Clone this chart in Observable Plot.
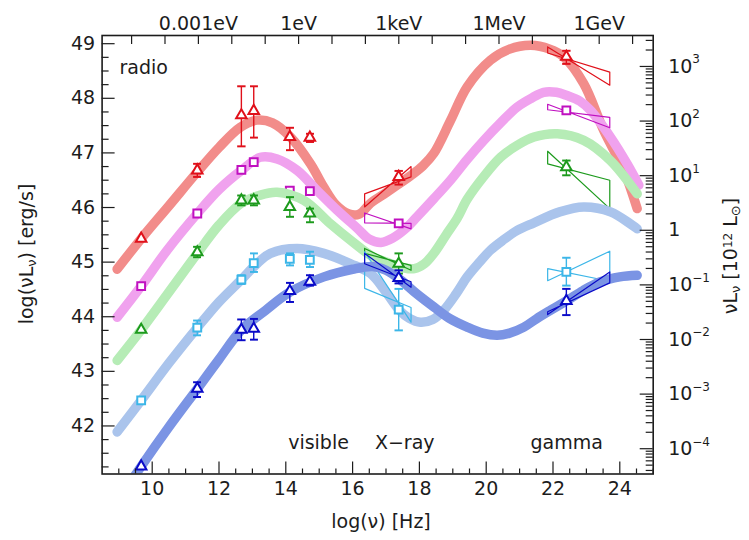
<!DOCTYPE html>
<html><head><meta charset="utf-8">
<script src="https://cdn.jsdelivr.net/npm/d3@7"></script>
<script src="https://cdn.jsdelivr.net/npm/@observablehq/plot@0.6"></script>
<style>
html,body{margin:0;padding:0;background:#fff;}
#chart svg{display:block;}
</style>
</head><body><div id="chart"></div>
<script>
// ---------- data ----------
const bins = ["bin1", "bin2", "bin3", "bin4", "bin5"];
const pointNu = [9.67, 11.35, 12.67, 13.04, 14.12, 14.72, 17.38, 22.40];

const bin1L  = [45.43, 46.68, 47.69, 47.77, 47.29, 47.28, 46.56, 48.76];
const bin1Lo = [null, 46.56, 47.12, 47.28, 47.05, 47.20, 46.42, 48.63];
const bin1Hi = [null, 46.80, 48.22, 48.22, 47.46, 47.35, 46.67, 48.87];

const bin2L  = [44.56, 45.89, 46.69, 46.83, 46.31, 46.30, 45.71, 47.78];
const bin2Lo = [null, null, null, null, null, null, null, 47.72];
const bin2Hi = [null, null, null, null, null, null, null, 47.84];

const bin3L  = [43.76, 45.18, 46.13, 46.13, 46.01, 45.89, 44.97, 46.74];
const bin3Lo = [null, 45.09, 46.04, 46.04, 45.83, 45.73, 44.79, 46.59];
const bin3Hi = [null, 45.28, 46.22, 46.22, 46.19, 45.98, 45.16, 46.86];

const bin4L  = [42.47, 43.80, 44.68, 44.98, 45.06, 45.04, 44.13, 44.82];
const bin4Lo = [null, 43.66, 44.60, 44.82, 44.94, 44.91, 43.75, 44.57];
const bin4Hi = [null, 43.93, 44.76, 45.16, 45.16, 45.19, 44.51, 45.08];

const bin5L  = [41.26, 42.68, 43.76, 43.78, 44.47, 44.64, 44.71, 44.29];
const bin5Lo = [null, 42.53, 43.57, 43.58, 44.27, 44.57, 44.61, 44.03];
const bin5Hi = [null, 42.80, 43.95, 43.96, 44.62, 44.76, 44.85, 44.51];

// model curves
const bin1CurveNu = [8.95, 9.67, 10.5, 11.35, 12.0, 12.64, 13.14, 13.6, 14.14, 14.74, 15.14, 15.5, 15.9, 16.2, 16.54, 17.0, 17.38, 17.73, 18.1, 18.43, 18.93, 19.43, 20.13, 20.7, 21.33, 21.9, 22.32, 22.92, 23.52, 24.12, 24.52];
const bin1CurveL  = [44.87, 45.43, 46.03, 46.65, 47.1, 47.47, 47.6, 47.55, 47.29, 46.8, 46.37, 46.05, 45.88, 45.88, 46.08, 46.27, 46.43, 46.58, 46.76, 46.99, 47.59, 48.21, 48.7, 48.9, 48.97, 48.9, 48.76, 48.27, 47.41, 46.68, 45.98];

const bin2CurveNu = [8.95, 9.67, 10.45, 11.35, 12.0, 12.67, 13.24, 13.74, 14.34, 14.94, 15.54, 16.14, 16.5, 16.85, 17.2, 17.6, 17.93, 18.43, 18.93, 19.43, 19.93, 20.43, 20.93, 21.35, 21.72, 22.1, 22.42, 22.8, 23.12, 23.72, 24.22, 24.57];
const bin2CurveL  = [43.99, 44.56, 45.22, 45.89, 46.33, 46.68, 46.92, 46.89, 46.68, 46.31, 45.95, 45.62, 45.42, 45.36, 45.44, 45.62, 45.83, 46.16, 46.5, 46.88, 47.23, 47.55, 47.84, 48.0, 48.11, 48.11, 48.05, 47.95, 47.78, 47.29, 46.8, 46.41];

const bin3CurveNu = [8.95, 9.67, 10.5, 11.35, 12.0, 12.67, 13.2, 13.74, 14.54, 15.34, 15.94, 16.6, 17.1, 17.5, 17.85, 18.15, 18.43, 18.8, 19.13, 19.43, 19.93, 20.43, 20.93, 21.43, 22.13, 22.92, 23.72, 24.52];
const bin3CurveL  = [43.2, 43.76, 44.45, 45.16, 45.68, 46.08, 46.22, 46.28, 46.13, 45.7, 45.4, 45.1, 44.98, 44.9, 44.88, 44.97, 45.16, 45.5, 45.8, 46.15, 46.57, 46.92, 47.14, 47.29, 47.35, 47.23, 46.86, 46.25];

const bin4CurveNu = [8.95, 9.67, 10.5, 11.35, 12.0, 12.67, 13.1, 13.54, 14.34, 15.14, 15.94, 16.54, 17.0, 17.4, 17.7, 18.03, 18.4, 18.73, 19.1, 19.43, 19.8, 20.13, 20.5, 20.93, 21.43, 22.2, 22.92, 23.72, 24.52];
const bin4CurveL  = [41.89, 42.47, 43.15, 43.8, 44.27, 44.68, 44.95, 45.16, 45.25, 45.16, 44.97, 44.79, 44.45, 44.12, 43.97, 43.9, 43.95, 44.12, 44.42, 44.73, 45.0, 45.22, 45.4, 45.58, 45.72, 45.92, 46.01, 45.92, 45.61];

const bin5CurveNu = [9.45, 9.67, 10.5, 11.35, 12.0, 12.67, 13.4, 14.12, 15.14, 16.0, 16.6, 17.0, 17.44, 17.9, 18.43, 18.9, 19.43, 19.9, 20.33, 20.7, 21.13, 21.5, 21.93, 22.43, 22.9, 23.42, 24.0, 24.52];
const bin5CurveL  = [41.06, 41.26, 41.98, 42.68, 43.22, 43.76, 44.12, 44.45, 44.73, 44.87, 44.92, 44.85, 44.67, 44.43, 44.18, 43.97, 43.81, 43.7, 43.66, 43.7, 43.81, 43.96, 44.12, 44.3, 44.48, 44.64, 44.73, 44.76];

// spectral-slope "bow ties": [lineA left, lineA right, lineB left, lineB right]
const xrayBand  = [16.36, 17.75];
const gammaBand = [21.84, 23.70];
const bin1Xray  = [46.25, 46.56, 46.01, 46.75];
const bin1Gamma = [48.94, 48.24, 48.83, 48.48];
const bin2Xray  = [45.90, 45.61, 45.72, 45.71];
const bin2Gamma = [47.89, 47.46, 47.79, 47.65];
const bin3Xray  = [45.25, 44.85, 45.16, 44.94];
const bin3Gamma = [47.03, 45.98, 46.80, 46.50];
const bin4Xray  = [45.19, 43.90, 44.52, 44.17];
const bin4Gamma = [44.88, 44.65, 44.66, 45.20];
const bin5Xray  = [45.16, 44.54, 44.97, 44.64];
const bin5Gamma = [44.04, 44.82, 44.09, 44.62];

// axes
const xMajorTicks = [10, 12, 14, 16, 18, 20, 22, 24];
const yMajorTicks = [42, 43, 44, 45, 46, 47, 48, 49];
const topLabels = ["0.001eV", "1eV", "1keV", "1MeV", "1GeV"];
const topLabelEv = [-3, 0, 3, 6, 9];          // log10(E / eV)
const rightExp = [3, 2, 1, 0, -1, -2, -3, -4]; // 10^k x 10^12 Lsun
const logHzPerEv = 14.383;                     // log10(1 eV / h)
const logLunit = 45.583;                       // log10(1e12 Lsun in erg/s)

// ---------- styles ----------
const curveColors = ["#f28c8a", "#f0a2ee", "#b6ecb6", "#aac4ec", "#7b94e4"];
const pointColors = ["#e0101a", "#c010c0", "#1c9a1c", "#3cb6e8", "#0a0ac8"];
const symbols = ["triangle", "square", "triangle", "square", "triangle"];
const ink = "#1c1c1c";

const W = 749, H = 540, ML = 101.6, MR = 96.3, MT = 35, MB = 66.5;
const FW = W - ML - MR, FH = H - MT - MB;

const series = [
  {L: bin1L, lo: bin1Lo, hi: bin1Hi, cNu: bin1CurveNu, cL: bin1CurveL, xr: bin1Xray, gr: bin1Gamma},
  {L: bin2L, lo: bin2Lo, hi: bin2Hi, cNu: bin2CurveNu, cL: bin2CurveL, xr: bin2Xray, gr: bin2Gamma},
  {L: bin3L, lo: bin3Lo, hi: bin3Hi, cNu: bin3CurveNu, cL: bin3CurveL, xr: bin3Xray, gr: bin3Gamma},
  {L: bin4L, lo: bin4Lo, hi: bin4Hi, cNu: bin4CurveNu, cL: bin4CurveL, xr: bin4Xray, gr: bin4Gamma},
  {L: bin5L, lo: bin5Lo, hi: bin5Hi, cNu: bin5CurveNu, cL: bin5CurveL, xr: bin5Xray, gr: bin5Gamma}
];

function tie(band, v, id) {
  return [
    {id, nu: band[0], L: v[0]}, {id, nu: band[1], L: v[1]},
    {id, nu: band[1], L: v[3]}, {id, nu: band[0], L: v[2]},
    {id, nu: band[0], L: v[0]}
  ];
}

const marks = [];
series.forEach((s, i) => {
  const curve = s.cNu.map((nu, j) => ({nu, L: s.cL[j]}));
  const pts = pointNu.map((nu, j) => ({nu, L: s.L[j], lo: s.lo[j], hi: s.hi[j]}));
  const ties = tie(xrayBand, s.xr, "x").concat(tie(gammaBand, s.gr, "g"));
  marks.push(
    Plot.line(curve, {x: "nu", y: "L", stroke: curveColors[i], strokeWidth: 9.5,
      curve: "catmull-rom", strokeLinecap: "round", clip: true}),
    Plot.line(ties, {x: "nu", y: "L", z: "id", stroke: pointColors[i], strokeWidth: 1.2}),
    Plot.link(pts.filter(d => d.lo != null), {x1: "nu", x2: "nu", y1: "lo", y2: "hi",
      stroke: pointColors[i], strokeWidth: 1.4, marker: "tick"}),
    Plot.dot(pts, {x: "nu", y: "L", symbol: symbols[i], r: symbols[i] === "square" ? 4.4 : 3.9,
      stroke: pointColors[i], fill: "white", strokeWidth: 2})
  );
});

const xMinor = d3.range(9, 25.01, 0.5).filter(v => !xMajorTicks.includes(v));
const yMinor = d3.range(41.25, 49.1, 0.25).filter(v => !yMajorTicks.includes(v));
const topTicks = d3.range(0, 16).map(k => logHzPerEv - 5 + k);
const rightMajor = rightExp.map(k => logLunit + k);
const rightMinor = [];
for (let k = -5; k <= 3; k++) for (let m = 2; m <= 9; m++) {
  const v = logLunit + k + Math.log10(m);
  if (v > 41.12 && v < 49.15) rightMinor.push(v);
}

const tickStyle = {stroke: ink, strokeWidth: 1.2};
marks.push(
  Plot.frame({stroke: ink, strokeWidth: 1.6}),
  Plot.tickX(xMajorTicks, {x: d => d, insetTop: FH - 12, ...tickStyle}),
  Plot.tickX(xMinor, {x: d => d, insetTop: FH - 5, ...tickStyle}),
  Plot.tickX(topTicks, {x: d => d, insetBottom: FH - 9, ...tickStyle}),
  Plot.tickY(yMajorTicks, {y: d => d, insetRight: FW - 13, ...tickStyle}),
  Plot.tickY(yMinor, {y: d => d, insetRight: FW - 7, ...tickStyle}),
  Plot.tickY(rightMajor, {y: d => d, insetLeft: FW - 13, ...tickStyle}),
  Plot.tickY(rightMinor, {y: d => d, insetLeft: FW - 7, ...tickStyle}),
  Plot.text(xMajorTicks, {x: d => d, text: d => String(d), frameAnchor: "bottom", dy: 20.5, fill: ink}),
  Plot.text(yMajorTicks, {y: d => d, text: d => String(d), frameAnchor: "left", dx: -7, textAnchor: "end", fill: ink}),
  Plot.text(topLabels, {x: (d, j) => logHzPerEv + topLabelEv[j], text: d => d, frameAnchor: "top", dy: -19, fill: ink}),
  Plot.text(rightExp, {y: k => logLunit + k, text: k => k === 0 ? "1" : "10", frameAnchor: "right", dx: 15, textAnchor: "start", fill: ink}),
  Plot.text(rightExp.filter(k => k !== 0), {y: k => logLunit + k, text: k => (k < 0 ? "\u2212" : "") + Math.abs(k),
    frameAnchor: "right", dx: 39, dy: -7, textAnchor: "start", fontSize: 12, fill: ink}),
  Plot.text(["radio"], {x: 9.02, y: 48.55, text: d => d, textAnchor: "start", fill: ink}),
  Plot.text(["visible"], {x: 14.98, y: 41.69, text: d => d, fill: ink}),
  Plot.text(["X\u2212ray"], {x: 17.56, y: 41.69, text: d => d, fill: ink}),
  Plot.text(["gamma"], {x: 22.41, y: 41.69, text: d => d, fill: ink})
);

const chart = Plot.plot({
  width: W, height: H,
  marginLeft: ML, marginRight: MR, marginTop: MT, marginBottom: MB,
  x: {domain: [8.5, 25], axis: null},
  y: {domain: [41.12, 49.15], axis: null},
  style: {fontFamily: "DejaVu Sans", fontSize: "19px", background: "white", overflow: "visible"},
  marks
});

// axis titles with sub/superscripts
const svg = d3.select(chart);
const tstyle = t => t.attr("font-family", "DejaVu Sans").attr("font-size", 19).attr("fill", ink);
const left = svg.append("text").call(tstyle)
  .attr("text-anchor", "middle").attr("transform", "translate(33,254) rotate(-90)");
left.append("tspan").text("log(\u03bdL");
left.append("tspan").attr("baseline-shift", "-25%").attr("font-size", 13).text("\u03bd");
left.append("tspan").text(") [erg/s]");

const right = svg.append("text").call(tstyle)
  .attr("text-anchor", "middle").attr("transform", "translate(737,256) rotate(-90)");
right.append("tspan").text("\u03bdL");
right.append("tspan").attr("baseline-shift", "-25%").attr("font-size", 13).text("\u03bd");
right.append("tspan").text(" [10");
right.append("tspan").attr("baseline-shift", "40%").attr("font-size", 12).text("12");
right.append("tspan").text(" L");
right.append("tspan").attr("baseline-shift", "-25%").attr("font-size", 13).text("\u2299");
right.append("tspan").text("]");

const bottom = svg.append("text").call(tstyle)
  .attr("text-anchor", "middle").attr("x", 381).attr("y", 528).text("log(\u03bd) [Hz]");

document.getElementById("chart").appendChild(chart);
</script>
</body></html>
